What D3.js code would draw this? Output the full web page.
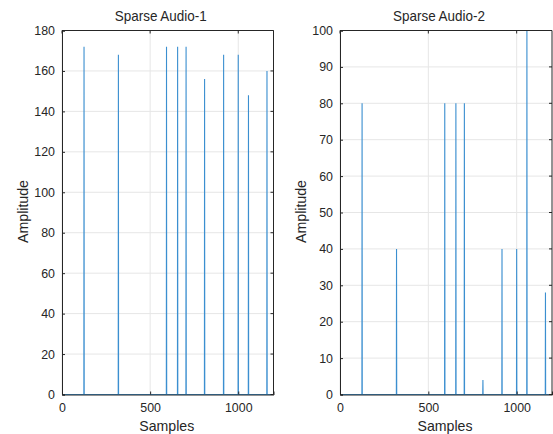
<!DOCTYPE html>
<html><head><meta charset="utf-8">
<script src="https://cdn.jsdelivr.net/npm/d3@7"></script>
<style>body{margin:0;background:#fff}svg{display:block}text{font-family:"Liberation Sans",Arial,sans-serif;fill:#262626}</style>
</head><body><svg id="c" width="553" height="434"></svg>
<script>
const titles = ["Sparse Audio-1", "Sparse Audio-2"];
const spikeSamples = [125, 320, 593, 656, 704, 809, 917, 1000, 1058, 1163];
const audio1 = [172, 168, 172, 172, 172, 156, 168, 168, 148, 160];
const audio2 = [80, 40, 80, 80, 80, 4, 40, 40, 100, 28];
const yTicks1 = [0, 20, 40, 60, 80, 100, 120, 140, 160, 180];
const yTicks2 = [0, 10, 20, 30, 40, 50, 60, 70, 80, 90, 100];
const xTicks = [0, 500, 1000];
const xMax = 1200;

const svg = d3.select("#c");
const panels = [
  {title: titles[0], vals: audio1, yMax: 180, ticks: yTicks1, left: 62, right: 273.5},
  {title: titles[1], vals: audio2, yMax: 100, ticks: yTicks2, left: 340, right: 552}
];
const plotTop = 30.5, plotBottom = 394.5;

panels.forEach(p => {
  const x = d3.scaleLinear().domain([0, xMax]).range([p.left, p.right]);
  const y = d3.scaleLinear().domain([0, p.yMax]).range([plotBottom, plotTop]);
  const g = svg.append("g");
  g.selectAll(".gx").data(xTicks).join("line")
    .attr("x1", d => x(d)).attr("x2", d => x(d)).attr("y1", plotTop).attr("y2", plotBottom)
    .attr("stroke", "#e6e6e6").attr("stroke-width", 1);
  g.selectAll(".gy").data(p.ticks).join("line")
    .attr("y1", d => y(d)).attr("y2", d => y(d)).attr("x1", p.left).attr("x2", p.right)
    .attr("stroke", "#e6e6e6").attr("stroke-width", 1);
  const pts = [[0, 0]];
  spikeSamples.forEach((s, i) => { pts.push([s - 1, 0], [s, p.vals[i]], [s + 1, 0]); });
  pts.push([xMax, 0]);
  g.append("path").datum(pts)
    .attr("d", d3.line().x(d => x(d[0])).y(d => y(d[1])))
    .attr("fill", "none").attr("stroke", "#3b8fd0").attr("stroke-width", 1.1);
  const ax = g.append("g").attr("transform", `translate(0,${plotBottom})`)
    .call(d3.axisBottom(x).tickValues(xTicks).tickSize(-3).tickPadding(8.5).tickFormat(d3.format("d")));
  const ay = g.append("g").attr("transform", `translate(${p.left},0)`)
    .call(d3.axisLeft(y).tickValues(p.ticks).tickSize(-3).tickPadding(7).tickFormat(d3.format("d")));
  [ax, ay].forEach(a => {
    a.select(".domain").attr("stroke", "#262626");
    a.selectAll(".tick line").attr("stroke", "#262626");
    a.selectAll(".tick text").attr("font-size", 12.4).attr("fill", "#262626")
      .attr("font-family", "Liberation Sans, Arial, sans-serif");
  });
  g.append("line").attr("x1", p.left).attr("x2", p.right).attr("y1", plotTop).attr("y2", plotTop).attr("stroke", "#262626");
  g.append("line").attr("x1", p.right).attr("x2", p.right).attr("y1", plotTop).attr("y2", plotBottom).attr("stroke", "#262626");
  g.selectAll(".tt").data(xTicks).join("line")
    .attr("x1", d => x(d)).attr("x2", d => x(d)).attr("y1", plotTop).attr("y2", plotTop + 3).attr("stroke", "#262626");
  g.selectAll(".rt").data(p.ticks).join("line")
    .attr("x1", p.right).attr("x2", p.right - 3).attr("y1", d => y(d)).attr("y2", d => y(d)).attr("stroke", "#262626");
  const cx = (p.left + p.right) / 2;
  g.append("text").attr("x", cx - 7).attr("y", 20.5).attr("text-anchor", "middle").attr("font-size", 15)
    .attr("textLength", 92).attr("lengthAdjust", "spacingAndGlyphs").text(p.title);
  g.append("text").attr("x", cx - 1).attr("y", 430.5).attr("text-anchor", "middle").attr("font-size", 14.6)
    .attr("textLength", 55).attr("lengthAdjust", "spacingAndGlyphs").text("Samples");
  g.append("text").attr("transform", `translate(${p.left - 34},${(plotTop + plotBottom) / 2 - 1}) rotate(-90)`)
    .attr("text-anchor", "middle").attr("font-size", 14.6)
    .attr("textLength", 63).attr("lengthAdjust", "spacingAndGlyphs").text("Amplitude");
});
</script></body></html>
